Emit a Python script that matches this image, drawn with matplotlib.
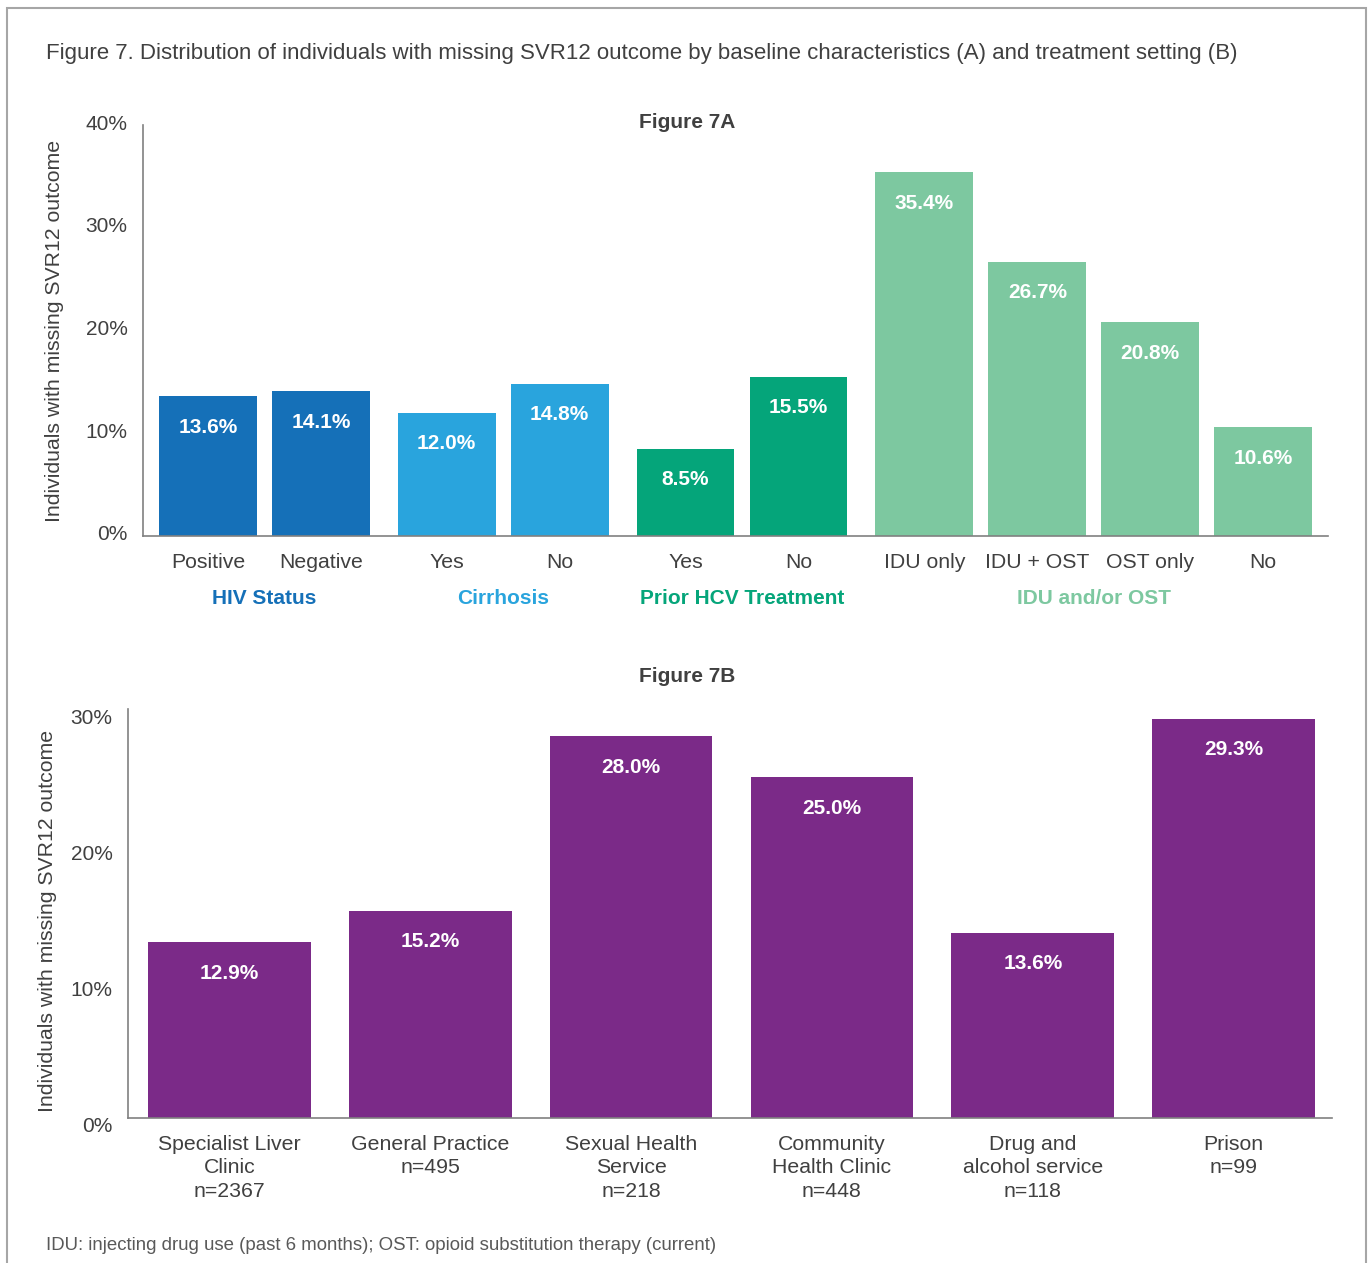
import matplotlib.pyplot as plt
from matplotlib.patches import Rectangle
from matplotlib.transforms import ScaledTranslation

plt.rcParams['font.family'] = ['Liberation Sans', 'DejaVu Sans']

# Figure 7A: baseline characteristics
grupos_a = ['HIV Status', 'Cirrhosis', 'Prior HCV Treatment', 'IDU and/or OST']
categorias_a = [['Positive', 'Negative'], ['Yes', 'No'], ['Yes', 'No'],
                ['IDU only', 'IDU + OST', 'OST only', 'No']]
valores_a = [[13.6, 14.1], [12.0, 14.8], [8.5, 15.5], [35.4, 26.7, 20.8, 10.6]]
colores_a = ['#1570b8', '#29a4dd', '#05a57a', '#7dc8a0']

# Figure 7B: treatment setting
categorias_b = ['Specialist Liver\nClinic\nn=2367', 'General Practice\nn=495',
                'Sexual Health\nService\nn=218', 'Community\nHealth Clinic\nn=448',
                'Drug and\nalcohol service\nn=118', 'Prison\nn=99']
valores_b = [12.9, 15.2, 28.0, 25.0, 13.6, 29.3]
color_b = '#7b2a88'

gris_texto = '#404040'
gris_eje = '#808080'
W, H = 1370, 1263

fig = plt.figure(figsize=(W / 100, H / 100), dpi=100)
fig.patches.append(Rectangle((7 / W, -0.05), (1366 - 7) / W, 1.05 - 8 / H,
                             transform=fig.transFigure, fill=False,
                             edgecolor='#a6a6a6', linewidth=1.5))

fig.text(46 / W, 1 - 53 / H,
         'Figure 7. Distribution of individuals with missing SVR12 outcome by '
         'baseline characteristics (A) and treatment setting (B)',
         fontsize=16, color=gris_texto, ha='left', va='center')


def estilo_ejes(ax, ymax, desplaz_y):
    for lado in ['top', 'right']:
        ax.spines[lado].set_visible(False)
    for lado in ['left', 'bottom']:
        ax.spines[lado].set_color(gris_eje)
        ax.spines[lado].set_linewidth(1.2)
    ax.set_ylim(0, ymax)
    ax.set_yticks(range(0, ymax + 1, 10))
    ax.set_yticklabels([f'{v}%' for v in range(0, ymax + 1, 10)])
    ax.tick_params(axis='both', length=0, labelsize=15, labelcolor=gris_texto)
    ax.tick_params(axis='y', pad=11)
    # las etiquetas del eje y quedan un poco desplazadas respecto a la marca
    for t in ax.get_yticklabels():
        t.set_transform(t.get_transform() + ScaledTranslation(0, -desplaz_y / 100, fig.dpi_scale_trans))


def etiquetas_valor(ax, barras, valores):
    for b, v in zip(barras, valores):
        ax.annotate(f'{v:.1f}%', (b.get_x() + b.get_width() / 2, v),
                    xytext=(0, -31), textcoords='offset pixels',
                    ha='center', va='center', color='white',
                    fontsize=15, fontweight='bold')


# ---- Figura 7A ----
ax1 = fig.add_axes([143 / W, 1 - 536 / H, (1328 - 143) / W, (536 - 125) / H])
estilo_ejes(ax1, 40, -3)

posiciones, etiquetas = [], []
i = 0
for g, (cats, vals, col) in enumerate(zip(categorias_a, valores_a, colores_a)):
    xs = [i + k + g * 0.115 for k in range(len(cats))]
    barras = ax1.bar(xs, vals, width=0.867, color=col)
    etiquetas_valor(ax1, barras, vals)
    ax1.annotate(grupos_a[g], (sum(xs) / len(xs), 0), xycoords=ax1.get_xaxis_transform(),
                 xytext=(0, -63), textcoords='offset pixels', ha='center', va='center',
                 color=col, fontsize=15, fontweight='bold')
    posiciones += xs
    etiquetas += cats
    i += len(cats)

ax1.set_xticks(posiciones)
ax1.set_xticklabels(etiquetas)
ax1.tick_params(axis='x', pad=12, labelsize=15.3)
ax1.set_xlim(posiciones[0] - 0.575, posiciones[-1] + 0.575)

fig.text(55 / W, 1 - 331 / H, 'Individuals with missing SVR12 outcome', rotation=90,
         fontsize=15.3, color=gris_texto, ha='center', va='center')
fig.text(687 / W, 1 - 122 / H, 'Figure 7A', fontsize=15, fontweight='bold',
         color=gris_texto, ha='center', va='center')

# ---- Figura 7B ----
ax2 = fig.add_axes([128 / W, 1 - 1118 / H, (1332 - 128) / W, (1118 - 709) / H])
estilo_ejes(ax2, 30, 7)

xb = list(range(len(valores_b)))
barras = ax2.bar(xb, valores_b, width=0.81, color=color_b)
etiquetas_valor(ax2, barras, valores_b)
ax2.set_xticks(xb)
ax2.set_xticklabels(categorias_b, linespacing=1.32)
ax2.tick_params(axis='x', pad=12, labelsize=15.3)
ax2.set_xlim(-0.505, len(valores_b) - 0.51)

fig.text(48 / W, 1 - 921 / H, 'Individuals with missing SVR12 outcome', rotation=90,
         fontsize=15.3, color=gris_texto, ha='center', va='center')
fig.text(687 / W, 1 - 677 / H, 'Figure 7B', fontsize=15, fontweight='bold',
         color=gris_texto, ha='center', va='center')

fig.text(46 / W, 1 - 1245 / H,
         'IDU: injecting drug use (past 6 months); OST: opioid substitution therapy (current)',
         fontsize=13.4, color='#595959', ha='left', va='center')

fig.savefig('out.png', dpi=100)
